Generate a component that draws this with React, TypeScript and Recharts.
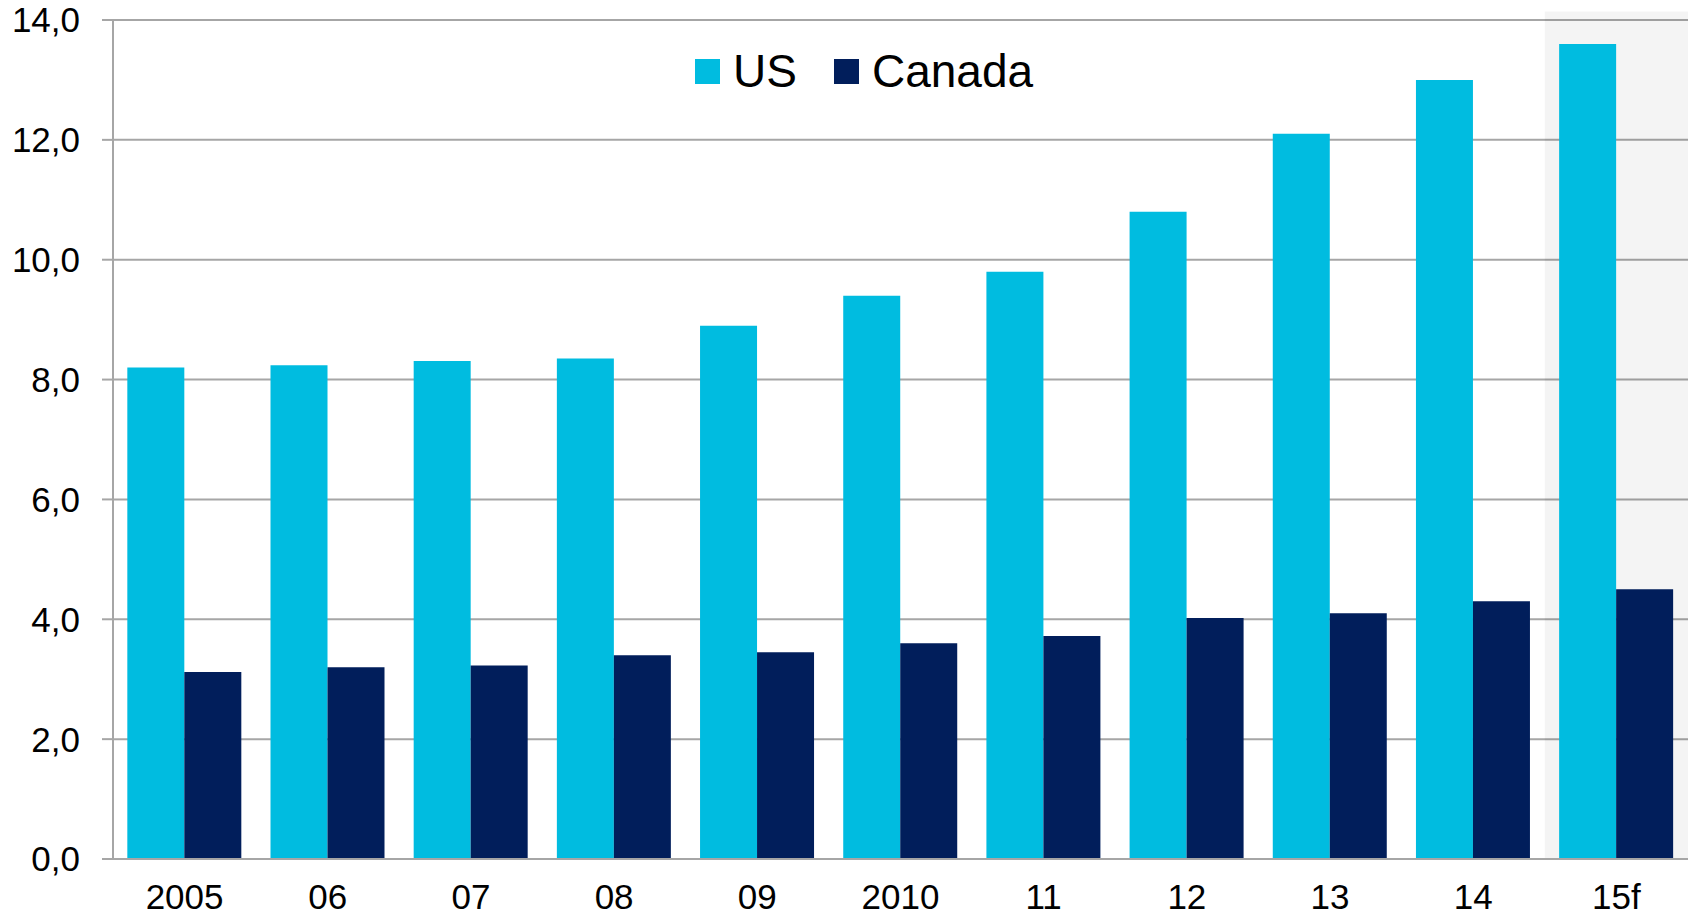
import { BarChart, Bar, XAxis, YAxis, CartesianGrid, ReferenceArea } from "recharts";

const years = ["2005", "06", "07", "08", "09", "2010", "11", "12", "13", "14", "15f"];
const us = [8.2, 8.24, 8.31, 8.35, 8.9, 9.4, 9.8, 10.8, 12.1, 13.0, 13.6];
const canada = [3.12, 3.2, 3.23, 3.4, 3.45, 3.6, 3.72, 4.02, 4.1, 4.3, 4.5];
const yTicks = [0, 2, 4, 6, 8, 10, 12, 14];

const US_COLOR = "#00bce0";
const CANADA_COLOR = "#011e5b";
const GRID = "#a6a6a6";
const FONT = "'Liberation Sans', Arial, sans-serif";

const data = years.map((year, i) => ({ year, us: us[i], canada: canada[i] }));

const fmt = (v: number) => v.toFixed(1).replace(".", ",");

export default function App() {
  return (
    <div style={{ position: "absolute", left: 0, top: 0, width: 1694, height: 915, fontFamily: FONT, background: "#fff" }}>
      <BarChart
        width={1694}
        height={915}
        data={data}
        margin={{ top: 20, right: 6, bottom: 0, left: 0 }}
        barCategoryGap="10%"
        barGap={0}
      >
        <CartesianGrid vertical={false} stroke={GRID} strokeWidth={2} />
        <ReferenceArea
          x1="15f"
          x2="15f"
          y1={0}
          y2={14.14}
          ifOverflow="visible"
          fill="#000"
          fillOpacity={0.045}
          stroke="none"
        />
        <XAxis
          dataKey="year"
          height={56}
          tickLine={false}
          tickSize={0}
          tickMargin={25}
          axisLine={{ stroke: GRID, strokeWidth: 2 }}
          tick={{ fill: "#000", fontSize: 35, fontFamily: FONT }}
          interval={0}
        />
        <YAxis
          width={113}
          domain={[0, 14]}
          ticks={yTicks}
          tickFormatter={fmt}
          tickSize={11}
          tickMargin={22}
          axisLine={{ stroke: GRID, strokeWidth: 2 }}
          tickLine={{ stroke: GRID, strokeWidth: 2 }}
          tick={{ fill: "#000", fontSize: 35, fontFamily: FONT }}
        />
        <Bar dataKey="us" fill={US_COLOR} isAnimationActive={false} />
        <Bar dataKey="canada" fill={CANADA_COLOR} isAnimationActive={false} />
      </BarChart>
      <div
        style={{
          position: "absolute",
          top: 46,
          left: 695,
          display: "flex",
          alignItems: "center",
          fontSize: 46,
          lineHeight: "50px",
          color: "#000",
        }}
      >
        <span style={{ width: 25, height: 25, background: US_COLOR, display: "inline-block", marginRight: 13 }} />
        <span style={{ marginRight: 37 }}>US</span>
        <span style={{ width: 25, height: 25, background: CANADA_COLOR, display: "inline-block", marginRight: 13 }} />
        <span>Canada</span>
      </div>
    </div>
  );
}
